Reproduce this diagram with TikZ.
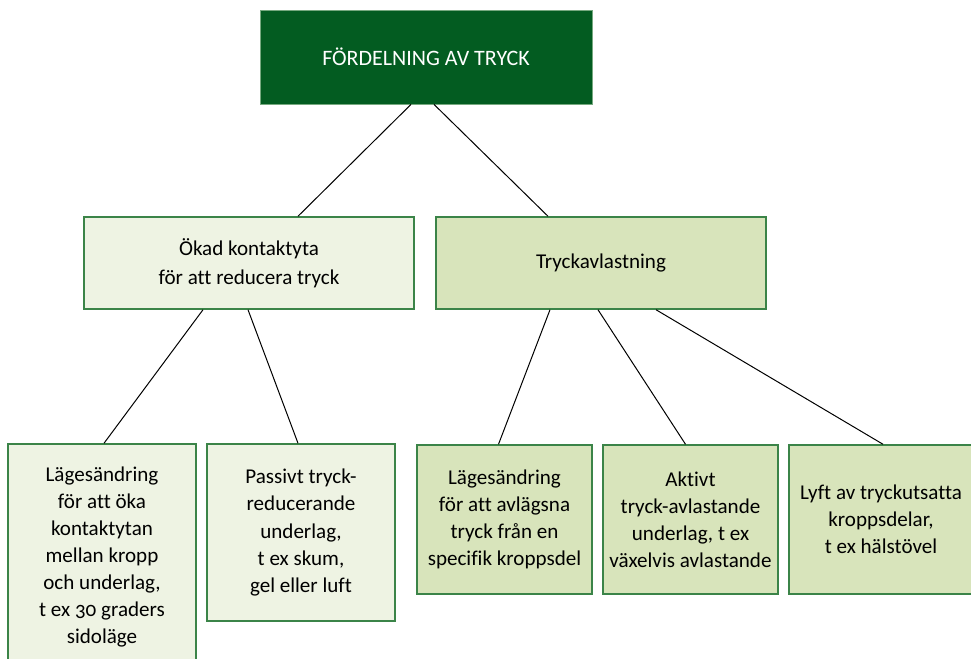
\documentclass[tikz,border=0pt]{standalone}
\usepackage{fontspec}
\setmainfont{Carlito}[Numbers=OldStyle, Ligatures=NoCommon]
\usetikzlibrary{calc}
\definecolor{darkgreen}{HTML}{035C21}
\definecolor{boxline}{HTML}{3B8448}
\definecolor{palefill}{HTML}{EEF3E3}
\definecolor{midfill}{HTML}{D8E4BB}

\begin{document}
\begin{tikzpicture}[x=0.75pt, y=-0.75pt,
  headbox/.style={draw=boxline!70, line width=0.6pt, fill=darkgreen, text=white,
    minimum width=249pt, minimum height=70.5pt, font=\fontsize{16.5}{20}\selectfont},
  lightbox/.style={draw=boxline, line width=1.1pt, fill=palefill, align=center,
    inner sep=0pt, font=\fontsize{15.8}{20.3}\selectfont},
  greenbox/.style={lightbox, fill=midfill},
  link/.style={line width=0.75pt, black}]

\useasboundingbox (0,0) rectangle (971,659);

\node[headbox] (top) at (426,57) {FÖRDELNING AV TRYCK};

\node[lightbox, minimum width=247.5pt, minimum height=69pt,
  font=\fontsize{15.8}{22}\selectfont] (okad) at (249,263)
  {Ökad kontaktyta\\för att reducera tryck};
\node[greenbox, minimum width=247.5pt, minimum height=69pt] (tryck) at (601,263)
  {Tryckavlastning};

% nedre raden
\node[lightbox, minimum width=141pt, minimum height=169.5pt] (lage1) at (102,557)
  {Lägesändring\\för att öka\\kontaktytan\\mellan kropp\\och underlag,\\t ex 30 graders\\sidoläge};
\node[lightbox, minimum width=141pt, minimum height=132.75pt] (passiv) at (301,532.5)
  {Passivt tryck-\\reducerande\\underlag,\\t ex skum,\\gel eller luft};
\node[greenbox, minimum width=131.25pt, minimum height=111.75pt] (lage2) at (504.5,519.5)
  {Lägesändring\\för att avlägsna\\tryck från en\\specifik kroppsdel};
\node[greenbox, minimum width=131.25pt, minimum height=111.75pt] (aktiv) at (690.5,519.5)
  {Aktivt\\tryck-avlastande\\underlag, t ex\\växelvis avlastande};
\node[greenbox, minimum width=138pt, minimum height=111.75pt] (lyft) at (881,519.5)
  {Lyft av tryckutsatta\\kroppsdelar,\\t ex hälstövel};

\draw[link] ($(top.south)+(-15,0)$) -- ($(okad.north)+(49,0)$);
\draw[link] ($(top.south)+(8,0)$) -- ($(tryck.north)+(-53,0)$);

\draw[link] ($(okad.south)+(-46,0)$) -- ($(lage1.north)+(2,0)$);
\draw[link] ($(okad.south)+(-1,0)$) -- ($(passiv.north)+(-3,0)$);

\draw[link] ($(tryck.south)+(-51,0)$) -- ($(lage2.north)+(-6,0)$);
\draw[link] ($(tryck.south)+(-3,0)$) -- ($(aktiv.north)+(-5,0)$);
\draw[link] ($(tryck.south)+(55,0)$) -- ($(lyft.north)+(2,0)$);

\end{tikzpicture}
\end{document}
